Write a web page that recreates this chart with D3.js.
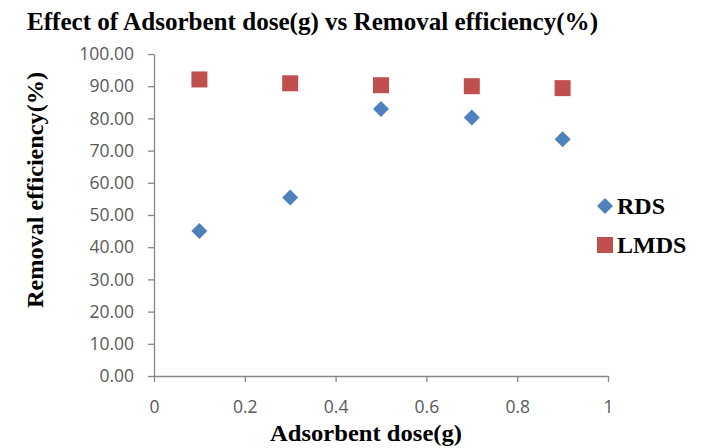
<!DOCTYPE html>
<html>
<head>
<meta charset="utf-8">
<script src="https://cdn.jsdelivr.net/npm/d3@7"></script>
<style>
  body { margin: 0; background: #fff; }
  .tick text { font-family: "Open Sans", sans-serif; font-size: 17.5px; fill: #595959; }
  .serif { font-family: "Liberation Serif", "Times New Roman", serif; font-weight: bold; fill: #000; }
</style>
</head>
<body>
<div id="chart"></div>
<script>
// chart values
const doses = [0.1, 0.3, 0.5, 0.7, 0.9];
const rdsValues = [45.0, 55.4, 82.9, 80.3, 73.5];
const lmdsValues = [92.1, 90.9, 90.3, 90.0, 89.4];
const yTicks = [0, 10, 20, 30, 40, 50, 60, 70, 80, 90, 100];
const xTicks = [0, 0.2, 0.4, 0.6, 0.8, 1];
const seriesNames = ["RDS", "LMDS"];
const seriesColors = ["#4F81BD", "#C0504D"];

const width = 705, height = 448;

const svg = d3.select("#chart").append("svg")
    .attr("width", width)
    .attr("height", height);

const x = d3.scaleLinear().domain([0, 1]).range([154, 608]);
const y = d3.scaleLinear().domain([0, 100]).range([376, 54]);

// title
svg.append("text")
    .attr("class", "serif")
    .attr("x", 27)
    .attr("y", 30)
    .attr("font-size", 25)
    .attr("textLength", 571)
    .attr("lengthAdjust", "spacingAndGlyphs")
    .text("Effect of Adsorbent dose(g) vs Removal efficiency(%)");

// axes
const yAxis = svg.append("g")
    .attr("transform", `translate(${x(0)},0)`)
    .call(d3.axisLeft(y).tickValues(yTicks).tickSize(6).tickPadding(14)
        .tickFormat(d3.format(".2f")).tickSizeOuter(0));

const xAxis = svg.append("g")
    .attr("transform", `translate(0,${y(0)})`)
    .call(d3.axisBottom(x).tickValues(xTicks).tickSize(6).tickPadding(19)
        .tickFormat(d => d3.format("")(d)).tickSizeOuter(0));

[yAxis, xAxis].forEach(g => {
    g.select(".domain").attr("stroke", "#868686").attr("stroke-width", 1.3);
    g.selectAll(".tick line").attr("stroke", "#868686").attr("stroke-width", 1.3);
});

// axis titles
svg.append("text")
    .attr("class", "serif")
    .attr("x", 366)
    .attr("y", 441)
    .attr("text-anchor", "middle")
    .attr("font-size", 24)
    .attr("textLength", 192)
    .attr("lengthAdjust", "spacingAndGlyphs")
    .text("Adsorbent dose(g)");

svg.append("text")
    .attr("class", "serif")
    .attr("transform", "translate(43,190) rotate(-90)")
    .attr("text-anchor", "middle")
    .attr("font-size", 24)
    .attr("textLength", 236)
    .attr("lengthAdjust", "spacingAndGlyphs")
    .text("Removal efficiency(%)");

// points
const diamond = d3.symbol().type(d3.symbolSquare).size(128);

svg.append("g").selectAll("path")
    .data(doses)
    .join("path")
    .attr("d", diamond)
    .attr("transform", (d, i) => `translate(${x(d)},${y(rdsValues[i])}) rotate(45)`)
    .attr("fill", seriesColors[0]);

svg.append("g").selectAll("rect")
    .data(doses)
    .join("rect")
    .attr("x", d => x(d) - 8)
    .attr("y", (d, i) => y(lmdsValues[i]) - 8)
    .attr("width", 16)
    .attr("height", 16)
    .attr("fill", seriesColors[1]);

// legend
const legend = svg.append("g");
const legendY = [206, 245];

legend.append("path")
    .attr("d", diamond)
    .attr("transform", `translate(605,${legendY[0]}) rotate(45)`)
    .attr("fill", seriesColors[0]);

legend.append("rect")
    .attr("x", 597).attr("y", legendY[1] - 8)
    .attr("width", 16).attr("height", 16)
    .attr("fill", seriesColors[1]);

legend.selectAll("text")
    .data(seriesNames)
    .join("text")
    .attr("class", "serif")
    .attr("x", 617)
    .attr("y", (d, i) => legendY[i] + 8)
    .attr("font-size", 24)
    .text(d => d);
</script>
</body>
</html>
